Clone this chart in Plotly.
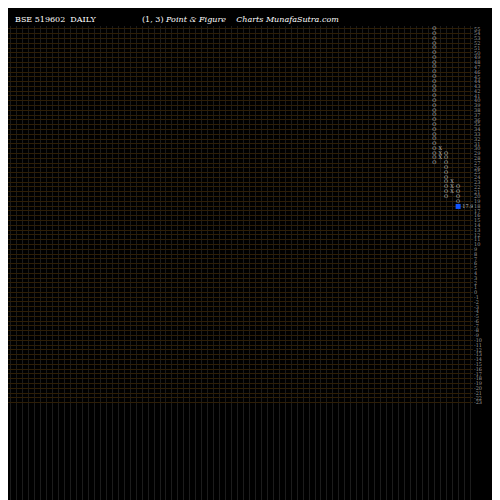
import plotly.graph_objects as go

col_types = ["O", "X", "O", "X", "O"]
col_x = [71, 72, 73, 74, 75]
col_low = [27, 28, 20, 21, 19]
col_high = [55, 30, 29, 23, 22]
last_price = 17.94
last_col = 75
tick_vals = list(range(55, -24, -1))
tick_text = [str(v) for v in tick_vals]

fig = go.Figure()
for t, x, lo, hi in zip(col_types, col_x, col_low, col_high):
    ys = list(range(lo, hi + 1))
    fig.add_trace(go.Scatter(x=[x] * len(ys), y=ys, mode="text", text=[t] * len(ys),
                             textfont=dict(color="#bbbbbb", size=5, family="DejaVu Serif"),
                             showlegend=False, hoverinfo="skip"))
fig.add_trace(go.Scatter(x=[last_col], y=[last_price], mode="markers+text",
                         marker=dict(symbol="square", color="#1155ff", size=5),
                         text=[str(last_price)], textposition="middle right",
                         textfont=dict(color="#bbbbbb", size=5, family="DejaVu Serif"),
                         showlegend=False, hoverinfo="skip"))

fig.update_layout(
    width=500, height=500, paper_bgcolor="black", plot_bgcolor="black",
    margin=dict(l=0, r=35, t=18, b=0),
    xaxis=dict(range=[-0.5, 77.5], tickvals=list(range(0, 78)), showticklabels=False,
               showgrid=True, gridcolor="#1c1c1c", gridwidth=1, zeroline=False, fixedrange=True),
    yaxis=dict(range=[-45, 55.6], side="right", tickvals=tick_vals, ticktext=tick_text,
               showgrid=True, gridcolor="#2e1e06", gridwidth=1, zeroline=False,
               tickfont=dict(color="#999999", size=5, family="DejaVu Serif"), ticks=""),
    annotations=[
        dict(text="BSE 519602  DAILY", x=0.01, y=1, xref="paper", yref="paper",
             xanchor="left", yanchor="bottom", showarrow=False,
             font=dict(color="white", size=8, family="DejaVu Serif")),
        dict(text="(1, 3) <i>Point & Figure</i>    <i>Charts MunafaSutra.com</i>", x=0.5, y=1,
             xref="paper", yref="paper", xanchor="center", yanchor="bottom", showarrow=False,
             font=dict(color="white", size=8, family="DejaVu Serif")),
    ],
)
fig.write_html("out.html")
